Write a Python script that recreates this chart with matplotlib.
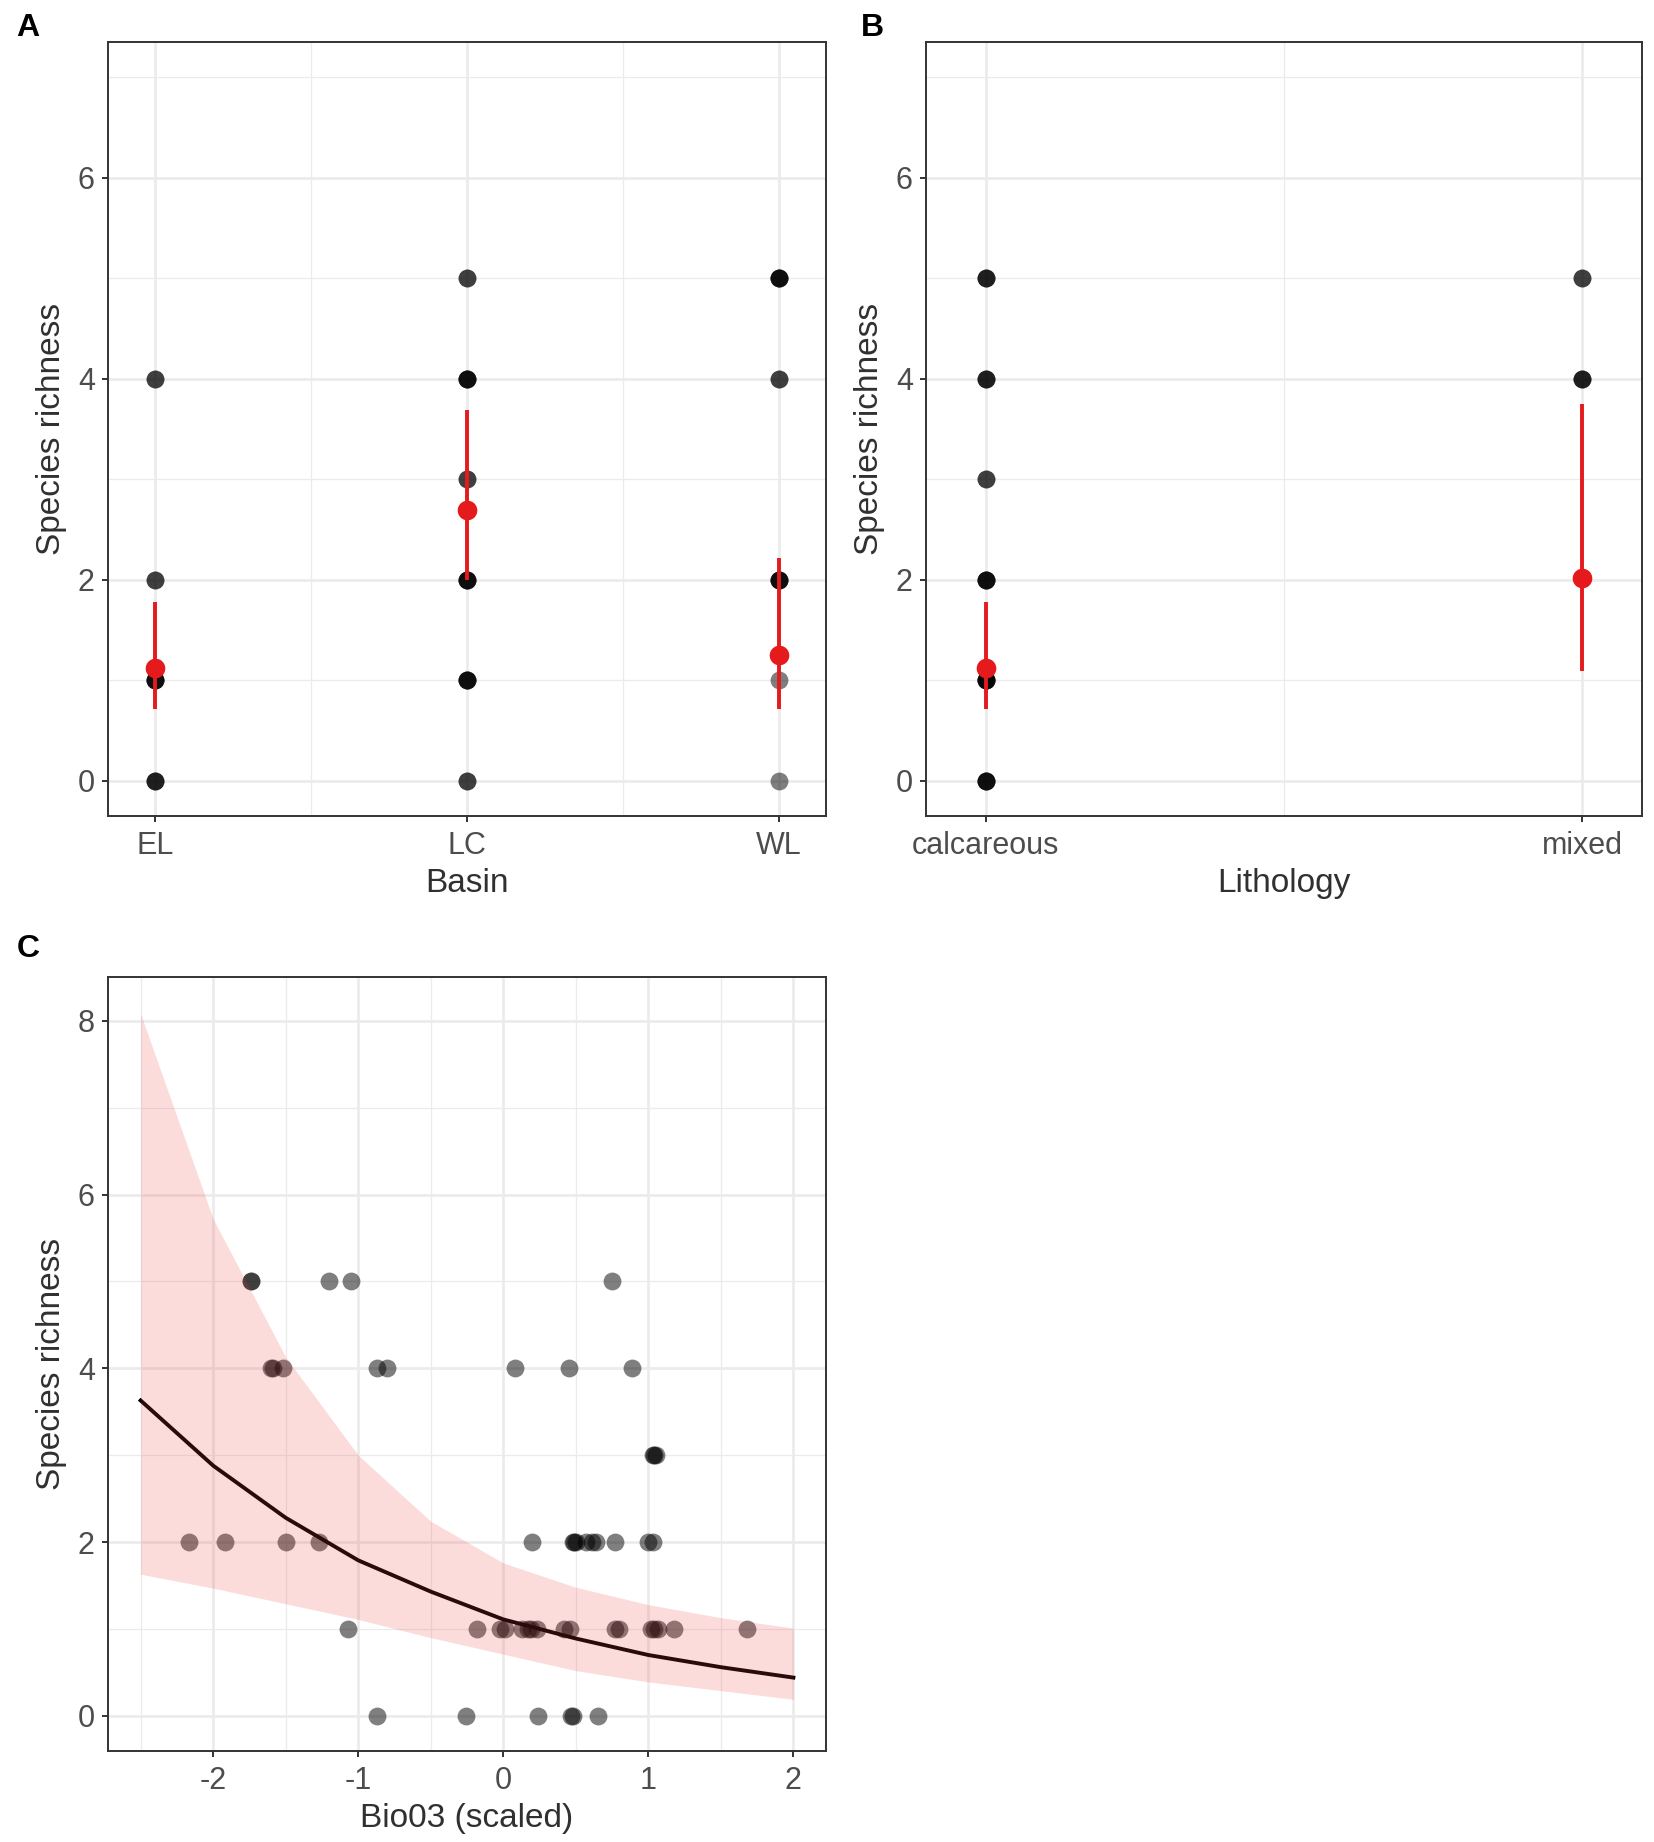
import matplotlib
matplotlib.use("Agg")
import matplotlib.pyplot as plt

plt.rcParams["font.family"] = ["Liberation Sans", "DejaVu Sans"]

# ---- panel A: richness by basin (repeated values = overlapping points)
basins = ["EL", "LC", "WL"]
el_richness = [0, 0, 0, 1, 1, 1, 1, 2, 2, 4, 4]
lc_richness = [0, 0, 1, 1, 1, 1, 2, 2, 2, 2, 3, 3, 4, 4, 4, 4, 5, 5]
wl_richness = [0, 1, 2, 2, 2, 2, 4, 4, 5, 5, 5, 5]
basin_mean = [1.12, 2.69, 1.25]
basin_lo = [0.71, 2.00, 0.71]
basin_hi = [1.78, 3.69, 2.22]

# ---- panel B: richness by lithology
lithology = ["calcareous", "mixed"]
calc_richness = [0, 0, 0, 0, 1, 1, 1, 1, 1, 2, 2, 2, 2, 3, 3, 4, 4, 4, 5, 5, 5]
mixed_richness = [4, 4, 4, 5, 5]
litho_mean = [1.12, 2.02]
litho_lo = [0.71, 1.09]
litho_hi = [1.78, 3.75]

# ---- panel C: richness vs Bio03 (scaled)
bio03 = [-1.74, -1.74, -1.20, -1.05, 0.75,
         -1.60, -1.59, -1.52, -0.87, -0.80, 0.08, 0.455, 0.885,
         1.03, 1.04, 1.05,
         -2.17, -1.92, -1.50, -1.27, 0.20, 0.48, 0.49, 0.50, 0.57, 0.61,
         0.64, 0.77, 1.00, 1.03,
         -1.07, -0.18, -0.02, 0.01, 0.13, 0.17, 0.19, 0.23, 0.42, 0.46,
         0.77, 0.80, 1.02, 1.04, 1.07, 1.18, 1.68,
         -0.87, -0.26, 0.24, 0.47, 0.48, 0.65]
bio03_richness = [5, 5, 5, 5, 5,
                  4, 4, 4, 4, 4, 4, 4, 4,
                  3, 3, 3,
                  2, 2, 2, 2, 2, 2, 2, 2, 2, 2,
                  2, 2, 2, 2,
                  1, 1, 1, 1, 1, 1, 1, 1, 1, 1,
                  1, 1, 1, 1, 1, 1, 1,
                  0, 0, 0, 0, 0, 0]
fit_x = [-2.5, -2.0, -1.5, -1.0, -0.5, 0.0, 0.5, 1.0, 1.5, 2.0]
fit_y = [3.63, 2.88, 2.28, 1.79, 1.43, 1.11, 0.89, 0.70, 0.56, 0.44]
fit_lo = [1.63, 1.47, 1.29, 1.11, 0.90, 0.71, 0.52, 0.39, 0.29, 0.19]
fit_hi = [8.08, 5.72, 4.13, 3.00, 2.24, 1.76, 1.48, 1.28, 1.13, 1.01]

W, H = 1654, 1842
fig = plt.figure(figsize=(W / 100, H / 100), dpi=100)


def px_axes(left, top, right, bottom):
    return fig.add_axes([left / W, 1 - bottom / H, (right - left) / W, (bottom - top) / H])


def style(ax):
    ax.set_facecolor("white")
    for s in ax.spines.values():
        s.set_color("#333333")
        s.set_linewidth(1.4)
    ax.grid(True, which="major", color="#ebebeb", linewidth=1.9, zorder=0)
    ax.grid(True, which="minor", color="#ebebeb", linewidth=0.9, zorder=0)
    ax.set_axisbelow(True)
    ax.tick_params(which="major", length=4.5, width=1.4, color="#333333",
                   labelsize=22, labelcolor="#4d4d4d")
    ax.tick_params(axis="x", which="major", pad=6)
    ax.tick_params(axis="y", which="major", pad=5)
    ax.tick_params(which="minor", length=0)
    ax.set_ylabel("Species richness", fontsize=24, labelpad=8, color="#303030")


def cat_panel(ax, groups, labels, mean, lo, hi, xlim, xlabel):
    for i, vals in enumerate(groups):
        ax.scatter([i + 1] * len(vals), vals, s=165, color="black", alpha=0.5,
                   linewidths=0, zorder=3)
    pos = list(range(1, len(labels) + 1))
    ax.vlines(pos, lo, hi, color="#e41a1c", linewidth=2.8, zorder=4)
    ax.scatter(pos, mean, s=200, color="#e41a1c", linewidths=0, zorder=5)
    ax.set_xlim(*xlim)
    ax.set_ylim(-0.35, 7.35)
    ax.set_xticks(pos)
    ax.set_xticklabels(labels)
    ax.set_xticks([p + 0.5 for p in pos[:-1]], minor=True)
    ax.set_yticks([0, 2, 4, 6])
    ax.set_yticks([1, 3, 5, 7], minor=True)
    ax.set_xlabel(xlabel, fontsize=24, labelpad=5, color="#303030")
    style(ax)


axA = px_axes(108, 42, 826, 816)
cat_panel(axA, [el_richness, lc_richness, wl_richness], basins,
          basin_mean, basin_lo, basin_hi, (0.85, 3.15), "Basin")

axB = px_axes(926, 42, 1642, 816)
cat_panel(axB, [calc_richness, mixed_richness], lithology,
          litho_mean, litho_lo, litho_hi, (0.9, 2.1), "Lithology")

axC = px_axes(108, 977, 826, 1751)
axC.scatter(bio03, bio03_richness, s=165, color="black", alpha=0.5,
            linewidths=0, zorder=3)
axC.plot(fit_x, fit_y, color="black", linewidth=2.8, zorder=4)
axC.fill_between(fit_x, fit_lo, fit_hi, color="#f03c3c", alpha=0.18,
                 linewidth=0, zorder=5)
axC.set_xlim(-2.725, 2.225)
axC.set_ylim(-0.405, 8.505)
axC.set_xticks([-2, -1, 0, 1, 2])
axC.set_xticklabels(["-2", "-1", "0", "1", "2"])
axC.set_xticks([-2.5, -1.5, -0.5, 0.5, 1.5], minor=True)
axC.set_yticks([0, 2, 4, 6, 8])
axC.set_yticks([1, 3, 5, 7], minor=True)
axC.set_xlabel("Bio03 (scaled)", fontsize=24, labelpad=5, color="#303030")
style(axC)

for lab, x, y in [("A", 16, 13), ("B", 861, 13), ("C", 17, 934)]:
    fig.text(x / W, 1 - y / H, lab, fontsize=23, fontweight="bold",
             ha="left", va="top")

fig.savefig("out.png", dpi=100, facecolor="white")
